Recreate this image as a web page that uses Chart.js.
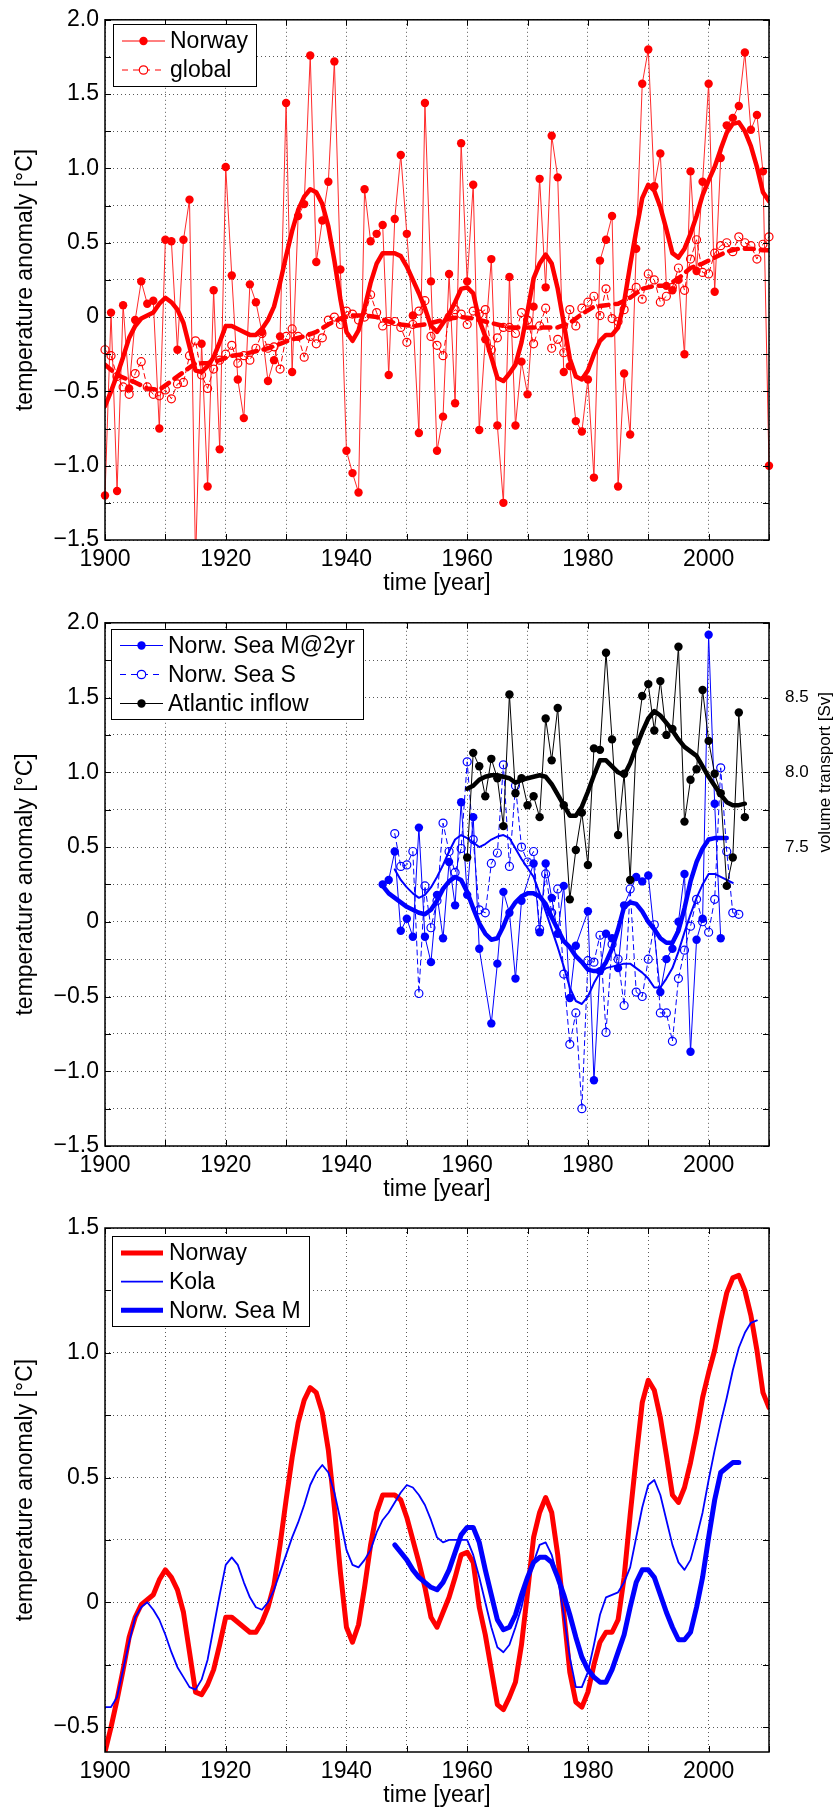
<!DOCTYPE html>
<html>
<head>
<meta charset="utf-8">
<title>Temperature anomalies – Norway, Norwegian Sea, Kola</title>
<script src="https://cdn.jsdelivr.net/npm/chart.js@4.4.1/dist/chart.umd.min.js"></script>
<style>
  html, body { margin: 0; padding: 0; background: #fff; }
  canvas { display: block; }
</style>
</head>
<body>
<canvas id="norwayChart" width="836" height="603"></canvas>
<canvas id="seaChart" width="836" height="603"></canvas>
<canvas id="compareChart" width="836" height="603"></canvas>
<script>
// ---- data ----

// axis ticks
const yearTicks = [1900, 1910, 1920, 1930, 1940, 1950, 1960, 1970, 1980, 1990, 2000, 2010];
const tempTicksWide = [-1.5, -1.25, -1, -0.75, -0.5, -0.25, 0, 0.25, 0.5, 0.75, 1, 1.25, 1.5, 1.75, 2];
const tempTicksNarrow = [-0.5, -0.25, 0, 0.25, 0.5, 0.75, 1, 1.25, 1.5];
const transportTicks = [7.5, 8.0, 8.5];

// Norway annual mean anomaly, 1900-2010
const norwayStart = 1900;
const norwayAnnual = [
    -1.20, 0.03, -1.17, 0.08, -0.48, -0.02, 0.24, 0.09, 0.11, -0.75,
    0.52, 0.51, -0.22, 0.52, 0.79, -1.65, -0.18, -1.14, 0.18, -0.89,
    1.01, 0.28, -0.42, -0.68, 0.22, 0.10, -0.10, -0.43, -0.29, -0.13,
    1.44, -0.37, 0.68, 0.76, 1.76, 0.37, 0.65, 0.91, 1.72, 0.32,
    -0.90, -1.05, -1.18, 0.86, 0.51, 0.56, 0.62, -0.39, 0.66, 1.09,
    0.56, 0.01, -0.78, 1.44, 0.24, -0.90, -0.67, 0.29, -0.58, 1.17,
    0.24, 0.89, -0.76, -0.15, 0.39, -0.73, -1.25, 0.27, -0.73, -0.30,
    -0.52, 0.07, 0.93, 0.20, 1.22, 0.94, -0.37, -0.33, -0.70, -0.77,
    -0.42, -1.08, 0.38, 0.52, 0.68, -1.14, -0.38, -0.79, 0.46, 1.57,
    1.80, 0.88, 1.10, 0.21, 0.18, 0.25, -0.25, 0.98, 0.31, 0.91,
    1.57, 0.17, 1.07, 1.29, 1.34, 1.42, 1.78, 1.26, 1.36, 0.98,
    -1.00
];

// global annual mean anomaly, 1900-2010
const globalAnnual = [
    -0.22, -0.26, -0.40, -0.47, -0.52, -0.38, -0.30, -0.47, -0.52, -0.53,
    -0.49, -0.55, -0.45, -0.44, -0.26, -0.16, -0.39, -0.48, -0.35, -0.29,
    -0.25, -0.19, -0.31, -0.26, -0.29, -0.21, -0.11, -0.21, -0.20, -0.35,
    -0.13, -0.08, -0.13, -0.27, -0.13, -0.18, -0.14, -0.02, 0.00, -0.05,
    0.04, 0.02, -0.02, 0.00, 0.15, 0.03, -0.06, -0.03, -0.03, -0.07,
    -0.17, -0.05, 0.04, 0.11, -0.13, -0.19, -0.26, 0.00, 0.05, 0.02,
    -0.05, 0.04, 0.02, 0.05, -0.22, -0.14, -0.07, -0.07, -0.11, 0.03,
    -0.02, -0.18, -0.06, 0.06, -0.21, -0.15, -0.24, 0.05, -0.06, 0.06,
    0.10, 0.14, 0.01, 0.19, -0.01, -0.03, 0.05, 0.16, 0.20, 0.12,
    0.29, 0.25, 0.10, 0.14, 0.20, 0.33, 0.18, 0.39, 0.52, 0.30,
    0.29, 0.43, 0.48, 0.50, 0.44, 0.54, 0.50, 0.48, 0.39, 0.49,
    0.54
];

// low-pass filtered Norway series, 1900-2010 (same curve in top and bottom panel)
const norwaySmooth = [
    -0.60, -0.50, -0.39, -0.27, -0.14, -0.06, -0.01, 0.01, 0.03, 0.09,
    0.13, 0.10, 0.05, -0.04, -0.20, -0.36, -0.37, -0.33, -0.27, -0.17,
    -0.06, -0.06, -0.08, -0.10, -0.12, -0.12, -0.08, -0.02, 0.07, 0.23,
    0.41, 0.58, 0.72, 0.81, 0.86, 0.84, 0.76, 0.61, 0.38, 0.12,
    -0.10, -0.16, -0.09, 0.06, 0.23, 0.36, 0.43, 0.43, 0.43, 0.41,
    0.34, 0.25, 0.16, 0.06, -0.06, -0.10, -0.04, 0.02, 0.10, 0.19,
    0.20, 0.16, -0.02, -0.13, -0.27, -0.41, -0.43, -0.38, -0.32, -0.17,
    0.04, 0.26, 0.36, 0.42, 0.36, 0.19, -0.04, -0.28, -0.40, -0.42,
    -0.36, -0.25, -0.16, -0.12, -0.12, -0.07, 0.10, 0.35, 0.58, 0.80,
    0.89, 0.85, 0.74, 0.59, 0.43, 0.40, 0.46, 0.56, 0.68, 0.82,
    0.92, 1.01, 1.13, 1.24, 1.30, 1.31, 1.25, 1.15, 1.01, 0.84,
    0.78
];

// low-pass filtered global series
const globalSmoothYears = [
    1900, 1902, 1905, 1907, 1909, 1911, 1913, 1915, 1917, 1919,
    1921, 1923, 1925, 1927, 1929, 1931, 1933, 1935, 1937, 1939,
    1941, 1943, 1945, 1947, 1949, 1951, 1953, 1955, 1957, 1959,
    1961, 1963, 1965, 1967, 1969, 1971, 1973, 1975, 1977, 1979,
    1981, 1983, 1985, 1987, 1989, 1991, 1993, 1995, 1997, 1999,
    2001, 2003, 2005, 2007, 2009, 2010
];
const globalSmooth = [
    -0.32, -0.39, -0.44, -0.48, -0.49, -0.43, -0.37, -0.31, -0.31, -0.29,
    -0.26, -0.25, -0.23, -0.21, -0.18, -0.15, -0.13, -0.10, -0.05, -0.01,
    0.01, 0.01, 0.00, -0.03, -0.05, -0.06, -0.05, -0.03, -0.01, 0.00,
    -0.01, -0.03, -0.05, -0.07, -0.07, -0.07, -0.07, -0.07, -0.04, 0.02,
    0.07, 0.08, 0.09, 0.13, 0.19, 0.21, 0.21, 0.26, 0.33, 0.36,
    0.40, 0.44, 0.46, 0.46, 0.45, 0.45
];

// Norwegian Sea, 1946-2005 (null = no marker in the figure)
const seaStart = 1946;
const seaM = [
    0.25, 0.28, 0.47, -0.06, 0.02, -0.10, 0.63, -0.10, -0.27, 0.18,
    -0.11, 0.40, 0.11, 0.80, 0.18, 0.70, -0.18, null, -0.68, -0.28,
    0.20, 0.06, -0.38, 0.14, null, 0.39, -0.07, 0.39, 0.16, -0.08,
    0.24, -0.51, -0.16, null, 0.07, -1.06, -0.33, -0.08, -0.11, -0.31,
    0.11, null, 0.30, 0.27, 0.31, null, -0.47, -0.25, -0.18, 0.00,
    0.32, -0.87, -0.12, 0.02, 1.92, 0.79, -0.11
];
const seaS = [
    null, null, 0.59, 0.37, 0.38, 0.47, -0.48, 0.24, -0.04, 0.14,
    0.66, 0.47, 0.33, 0.49, 1.07, 0.55, 0.08, 0.06, 0.39, 0.46,
    1.05, 0.37, 0.91, 0.50, 0.40, 0.47, -0.05, 0.32, 0.06, 0.22,
    -0.35, -0.82, -0.61, -1.25, -0.26, -0.27, -0.09, -0.74, -0.15, -0.25,
    -0.56, 0.22, -0.47, -0.50, -0.25, -0.02, -0.61, -0.61, -0.80, -0.38,
    -0.19, -0.03, 0.15, 0.00, -0.07, 0.15, 1.03, 0.47, 0.06, 0.05
];
// smoothed M (middle panel), 1946-2003
const seaMSmooth = [
    0.24, 0.19, 0.16, 0.13, 0.10, 0.08, 0.06, 0.05, 0.08, 0.14,
    0.22, 0.27, 0.30, 0.28, 0.20, 0.09, -0.01, -0.08, -0.12, -0.11,
    -0.03, 0.07, 0.13, 0.17, 0.19, 0.19, 0.17, 0.12, 0.03, -0.05,
    -0.13, -0.17, -0.23, -0.27, -0.32, -0.33, -0.33, -0.27, -0.18, -0.05,
    0.10, 0.13, 0.12, 0.07, 0.00, -0.05, -0.11, -0.14, -0.14, -0.06,
    0.09, 0.27, 0.40, 0.49, 0.55, 0.56, 0.56, 0.56
];
// smoothed S, 1948-2004
const seaSSmoothStart = 1948;
const seaSSmooth = [
    0.35, 0.28, 0.23, 0.19, 0.16, 0.18, 0.23, 0.30, 0.38, 0.47,
    0.55, 0.58, 0.56, 0.53, 0.50, 0.52, 0.55, 0.57, 0.58, 0.56,
    0.49, 0.42, 0.36, 0.30, 0.19, 0.07, -0.05, -0.17, -0.30, -0.44,
    -0.53, -0.55, -0.50, -0.41, -0.34, -0.31, -0.30, -0.29, -0.28, -0.28,
    -0.31, -0.34, -0.38, -0.44, -0.44, -0.38, -0.31, -0.20, -0.07, 0.05,
    0.16, 0.25, 0.32, 0.32, 0.30, 0.28, 0.26
];

// Atlantic inflow volume transport [Sv], 1960-2006
const inflowStart = 1960;
const inflow = [
    7.43, 8.13, 8.04, 7.84, 8.09, 7.96, 7.64, 8.52, 7.86, 7.96,
    7.78, 7.84, 7.70, 8.36, 8.08, 8.43, 7.78, 7.15, 7.48, 7.73,
    7.38, 8.16, 8.15, 8.80, 8.22, 7.58, 7.99, 7.28, 8.20, 8.51,
    8.59, 8.28, 8.61, 8.25, 8.29, 8.84, 7.67, 7.95, 8.02, 8.55,
    8.21, 7.99, 7.86, 7.24, 7.43, 8.40, 7.70
];
const inflowSmooth = [
    7.89, 7.91, 7.95, 7.97, 7.98, 7.98, 7.97, 7.96, 7.93, 7.95,
    7.96, 7.97, 7.98, 7.97, 7.92, 7.85, 7.78, 7.71, 7.71, 7.77,
    7.87, 7.98, 8.08, 8.08, 8.04, 8.00, 7.98, 8.06, 8.17, 8.27,
    8.36, 8.41, 8.38, 8.33, 8.28, 8.22, 8.17, 8.14, 8.11, 8.04,
    7.97, 7.91, 7.85, 7.80, 7.78, 7.78, 7.79
];

// bottom panel: Kola 1900-2008, Norwegian Sea M (smoothed) 1948-2005
const kola = [
    -0.42, -0.42, -0.38, -0.27, -0.16, -0.06, -0.02, 0.00, -0.03, -0.07,
    -0.13, -0.20, -0.26, -0.30, -0.34, -0.35, -0.31, -0.23, -0.10, 0.03,
    0.15, 0.18, 0.15, 0.08, 0.02, -0.02, -0.03, 0.00, 0.05, 0.12,
    0.19, 0.26, 0.32, 0.39, 0.47, 0.52, 0.55, 0.52, 0.44, 0.33,
    0.21, 0.15, 0.14, 0.17, 0.21, 0.28, 0.33, 0.36, 0.40, 0.44,
    0.47, 0.46, 0.43, 0.39, 0.33, 0.26, 0.24, 0.25, 0.25, 0.25,
    0.25, 0.19, 0.10, 0.00, -0.10, -0.18, -0.20, -0.17, -0.10, -0.02,
    0.09, 0.16, 0.23, 0.24, 0.19, 0.10, -0.05, -0.22, -0.34, -0.34,
    -0.28, -0.17, -0.05, 0.02, 0.03, 0.04, 0.08, 0.14, 0.26, 0.38,
    0.47, 0.49, 0.43, 0.33, 0.23, 0.16, 0.13, 0.17, 0.26, 0.36,
    0.49, 0.61, 0.72, 0.82, 0.93, 1.02, 1.08, 1.12, 1.13
];
const seaMLowStart = 1948;
const seaMLow = [
    0.23, 0.20, 0.17, 0.13, 0.10, 0.08, 0.06, 0.05, 0.08, 0.13,
    0.20, 0.27, 0.30, 0.30, 0.24, 0.13, 0.03, -0.07, -0.11, -0.10,
    -0.05, 0.03, 0.10, 0.16, 0.18, 0.18, 0.16, 0.10, 0.03, -0.05,
    -0.14, -0.22, -0.27, -0.30, -0.32, -0.32, -0.27, -0.20, -0.13, -0.02,
    0.08, 0.13, 0.13, 0.10, 0.03, -0.04, -0.10, -0.15, -0.15, -0.12,
    -0.02, 0.10, 0.26, 0.41, 0.52, 0.54, 0.56, 0.56
];

// ---- helpers ----
const FONT = '"Liberation Sans", Arial, Helvetica, sans-serif';
const RED = '#ff0000';
const BLUE = '#0000ff';

Chart.defaults.font.family = FONT;
Chart.defaults.font.size = 23;
Chart.defaults.color = '#000';

function series(start, values) {
    return values.map((v, i) => ({ x: start + i, y: v }));
}
function pairs(xs, ys) {
    return xs.map((x, i) => ({ x: x, y: ys[i] }));
}

// labels only on every 0.5, "0" without decimals, true minus sign
function tempLabel(v) {
    if (Math.abs(v * 2 - Math.round(v * 2)) > 1e-6) return '';
    if (Math.abs(v) < 1e-9) return '0';
    return (v < 0 ? '\u2212' : '') + Math.abs(v).toFixed(1);
}

const dotted = { color: 'rgba(0,0,0,0.65)', lineWidth: 1, drawTicks: false };

function yearAxis(axisHeight, titlePad) {
    return {
        type: 'linear', min: 1900, max: 2010,
        afterBuildTicks: s => { s.ticks = yearTicks.map(v => ({ value: v })); },
        afterFit: s => { s.height = axisHeight; },
        ticks: { autoSkip: false, maxRotation: 0, padding: 6,
                 callback: v => (v % 20 === 0 && v < 2010) ? String(v) : '' },
        grid: dotted,
        border: { display: false, dash: [1, 3] },
        title: { display: true, text: 'time [year]', padding: { top: 0, bottom: titlePad } }
    };
}

function tempAxis(min, max, ticks) {
    return {
        type: 'linear', position: 'left', min: min, max: max,
        afterBuildTicks: s => { s.ticks = ticks.map(v => ({ value: v })); },
        afterFit: s => { s.width = 105; },
        ticks: { autoSkip: false, padding: 6, callback: tempLabel },
        grid: dotted,
        border: { display: false, dash: [1, 3] },
        title: { display: true, text: 'temperature anomaly [°C]', padding: { top: 12, bottom: 0 } }
    };
}

// box around the axes, MATLAB style inward ticks, right-hand title
const framePlugin = {
    id: 'frame',
    afterDatasetsDraw(chart, args, opts) {
        const { ctx, chartArea: a, scales } = chart;
        ctx.save();
        ctx.strokeStyle = '#000';
        ctx.lineWidth = 1;
        const t = 6;
        ctx.beginPath();
        scales.x.ticks.forEach(tk => {
            const px = Math.round(scales.x.getPixelForValue(tk.value)) + 0.5;
            ctx.moveTo(px, a.bottom); ctx.lineTo(px, a.bottom - t);
            ctx.moveTo(px, a.top); ctx.lineTo(px, a.top + t);
        });
        scales.y.ticks.forEach(tk => {
            const py = Math.round(scales.y.getPixelForValue(tk.value)) + 0.5;
            ctx.moveTo(a.left, py); ctx.lineTo(a.left + t, py);
            ctx.moveTo(a.right, py); ctx.lineTo(a.right - t, py);
        });
        ctx.stroke();
        ctx.lineWidth = 1.5;
        ctx.strokeRect(a.left, a.top, a.right - a.left, a.bottom - a.top);
        if (opts && opts.sideTitle && scales.y2) {
            const tv = scales.y2.ticks.map(tk => tk.value);
            const cy = scales.y2.getPixelForValue((tv[0] + tv[tv.length - 1]) / 2);
            ctx.translate(a.right + 56, cy);
            ctx.rotate(-Math.PI / 2);
            ctx.font = '17px ' + FONT;
            ctx.fillStyle = '#000';
            ctx.textAlign = 'center';
            ctx.textBaseline = 'middle';
            ctx.fillText(opts.sideTitle, 0, 0);
        }
        ctx.restore();
    }
};

// boxed legend inside the axes, upper left
const boxLegend = {
    id: 'boxLegend',
    afterDraw(chart, args, o) {
        if (!o || !o.items) return;
        const ctx = chart.ctx;
        ctx.save();
        ctx.fillStyle = '#fff';
        ctx.fillRect(o.left, o.top, o.width, o.height);
        ctx.strokeStyle = '#000';
        ctx.lineWidth = 1;
        ctx.strokeRect(o.left + 0.5, o.top + 0.5, o.width, o.height);
        ctx.font = '23px ' + FONT;
        ctx.textBaseline = 'middle';
        ctx.textAlign = 'left';
        o.items.forEach((it, i) => {
            const y = o.top + o.firstRow + i * o.rowStep;
            ctx.strokeStyle = it.color;
            ctx.lineWidth = it.width;
            ctx.setLineDash(it.dash || []);
            ctx.beginPath();
            ctx.moveTo(o.sampleFrom, y);
            ctx.lineTo(o.sampleTo, y);
            ctx.stroke();
            ctx.setLineDash([]);
            if (it.marker) {
                const mx = (o.sampleFrom + o.sampleTo) / 2;
                ctx.beginPath();
                ctx.arc(mx, y, 4.2, 0, Math.PI * 2);
                if (it.marker === 'filled') {
                    ctx.fillStyle = it.color;
                    ctx.fill();
                } else {
                    ctx.fillStyle = '#fff';
                    ctx.fill();
                    ctx.lineWidth = 1.2;
                    ctx.strokeStyle = it.color;
                    ctx.stroke();
                }
            }
            ctx.fillStyle = '#000';
            ctx.fillText(it.label, o.textX, y + 1);
        });
        ctx.restore();
    }
};

const baseOptions = {
    responsive: false,
    animation: false,
    devicePixelRatio: 1,
    elements: { line: { borderCapStyle: 'round', borderJoinStyle: 'round', tension: 0 } }
};

const rawClip = { left: 6, right: 6, top: 0, bottom: 0 };

// ---- top panel: Norway vs global ----
new Chart('norwayChart', {
    type: 'line',
    data: {
        datasets: [{
            label: 'global smoothed',
            data: pairs(globalSmoothYears, globalSmooth),
            borderColor: RED, borderWidth: 4.5, borderDash: [9, 7],
            pointRadius: 0, order: 1
        }, {
            label: 'Norway smoothed',
            data: series(norwayStart, norwaySmooth),
            borderColor: RED, borderWidth: 4.5,
            pointRadius: 0, order: 2
        }, {
            label: 'global',
            data: series(norwayStart, globalAnnual),
            borderColor: RED, borderWidth: 1, borderDash: [5, 4],
            pointRadius: 4, pointBackgroundColor: 'rgba(255,255,255,0)',
            pointBorderColor: RED, pointBorderWidth: 1.2,
            clip: rawClip, order: 3
        }, {
            label: 'Norway',
            data: series(norwayStart, norwayAnnual),
            borderColor: '#ff2a2a', borderWidth: 1,
            pointRadius: 4.2, pointBackgroundColor: RED, pointBorderWidth: 0,
            clip: rawClip, order: 4
        }]
    },
    options: Object.assign({}, baseOptions, {
        layout: { padding: { top: 16, right: 67, bottom: 0, left: 0 } },
        scales: {
            x: yearAxis(63, 6),
            y: tempAxis(-1.5, 2.0, tempTicksWide)
        },
        plugins: {
            legend: { display: false },
            tooltip: { enabled: false },
            boxLegend: {
                left: 113, top: 24, width: 143, height: 62,
                firstRow: 17, rowStep: 29,
                sampleFrom: 122, sampleTo: 165, textX: 170,
                items: [
                    { label: 'Norway', color: RED, width: 1, marker: 'filled' },
                    { label: 'global', color: RED, width: 1, dash: [6, 5], marker: 'open' }
                ]
            }
        }
    }),
    plugins: [framePlugin, boxLegend]
});

// ---- middle panel: Norwegian Sea and Atlantic inflow ----
new Chart('seaChart', {
    type: 'line',
    data: {
        datasets: [{
            label: 'Atlantic inflow smoothed',
            data: series(inflowStart, inflowSmooth), yAxisID: 'y2',
            borderColor: '#000', borderWidth: 4.5, pointRadius: 0, order: 1
        }, {
            label: 'Atlantic inflow',
            data: series(inflowStart, inflow), yAxisID: 'y2',
            borderColor: '#000', borderWidth: 1,
            pointRadius: 4.2, pointBackgroundColor: '#000', pointBorderWidth: 0,
            clip: rawClip, order: 2
        }, {
            label: 'Norw. Sea S smoothed',
            data: series(seaSSmoothStart, seaSSmooth),
            borderColor: BLUE, borderWidth: 2, pointRadius: 0, order: 3
        }, {
            label: 'Norw. Sea M smoothed',
            data: series(seaStart, seaMSmooth),
            borderColor: BLUE, borderWidth: 4.5, pointRadius: 0, order: 4
        }, {
            label: 'Norw. Sea S',
            data: series(seaStart, seaS),
            borderColor: BLUE, borderWidth: 1, borderDash: [5, 4],
            pointRadius: 4, pointBackgroundColor: 'rgba(255,255,255,0)',
            pointBorderColor: BLUE, pointBorderWidth: 1.2,
            spanGaps: true, clip: rawClip, order: 5
        }, {
            label: 'Norw. Sea M@2yr',
            data: series(seaStart, seaM),
            borderColor: BLUE, borderWidth: 1,
            pointRadius: 4.2, pointBackgroundColor: BLUE, pointBorderWidth: 0,
            spanGaps: true, clip: rawClip, order: 6
        }]
    },
    options: Object.assign({}, baseOptions, {
        layout: { padding: { top: 18, right: 0, bottom: 0, left: 0 } },
        scales: {
            x: yearAxis(60, 3),
            y: tempAxis(-1.5, 2.0, tempTicksWide),
            y2: {
                type: 'linear', position: 'right', min: 5.5, max: 9.0,
                afterBuildTicks: s => { s.ticks = transportTicks.map(v => ({ value: v })); },
                afterFit: s => { s.width = 67; },
                ticks: { autoSkip: false, padding: 8, font: { size: 17 }, callback: v => v.toFixed(1) },
                grid: { display: false },
                border: { display: false }
            }
        },
        plugins: {
            legend: { display: false },
            tooltip: { enabled: false },
            frame: { sideTitle: 'volume transport [Sv]' },
            boxLegend: {
                left: 111, top: 26, width: 252, height: 90,
                firstRow: 16.5, rowStep: 29,
                sampleFrom: 120, sampleTo: 163, textX: 168,
                items: [
                    { label: 'Norw. Sea M@2yr', color: BLUE, width: 1, marker: 'filled' },
                    { label: 'Norw. Sea S', color: BLUE, width: 1, dash: [6, 5], marker: 'open' },
                    { label: 'Atlantic inflow', color: '#000', width: 1, marker: 'filled' }
                ]
            }
        }
    }),
    plugins: [framePlugin, boxLegend]
});

// ---- bottom panel: smoothed series compared ----
new Chart('compareChart', {
    type: 'line',
    data: {
        datasets: [{
            label: 'Norw. Sea M',
            data: series(seaMLowStart, seaMLow),
            borderColor: BLUE, borderWidth: 5, pointRadius: 0, order: 1
        }, {
            label: 'Kola',
            data: series(1900, kola),
            borderColor: BLUE, borderWidth: 1.8, pointRadius: 0, order: 2
        }, {
            label: 'Norway',
            data: series(norwayStart, norwaySmooth),
            borderColor: RED, borderWidth: 5, pointRadius: 0, order: 3
        }]
    },
    options: Object.assign({}, baseOptions, {
        layout: { padding: { top: 22, right: 67, bottom: 0, left: 0 } },
        scales: {
            x: yearAxis(57, 0),
            y: tempAxis(-0.6, 1.5, tempTicksNarrow)
        },
        plugins: {
            legend: { display: false },
            tooltip: { enabled: false },
            boxLegend: {
                left: 112, top: 30, width: 197, height: 90,
                firstRow: 17, rowStep: 28.6,
                sampleFrom: 121, sampleTo: 163, textX: 169,
                items: [
                    { label: 'Norway', color: RED, width: 5 },
                    { label: 'Kola', color: BLUE, width: 1.8 },
                    { label: 'Norw. Sea M', color: BLUE, width: 5 }
                ]
            }
        }
    }),
    plugins: [framePlugin, boxLegend]
});
</script>
</body>
</html>
